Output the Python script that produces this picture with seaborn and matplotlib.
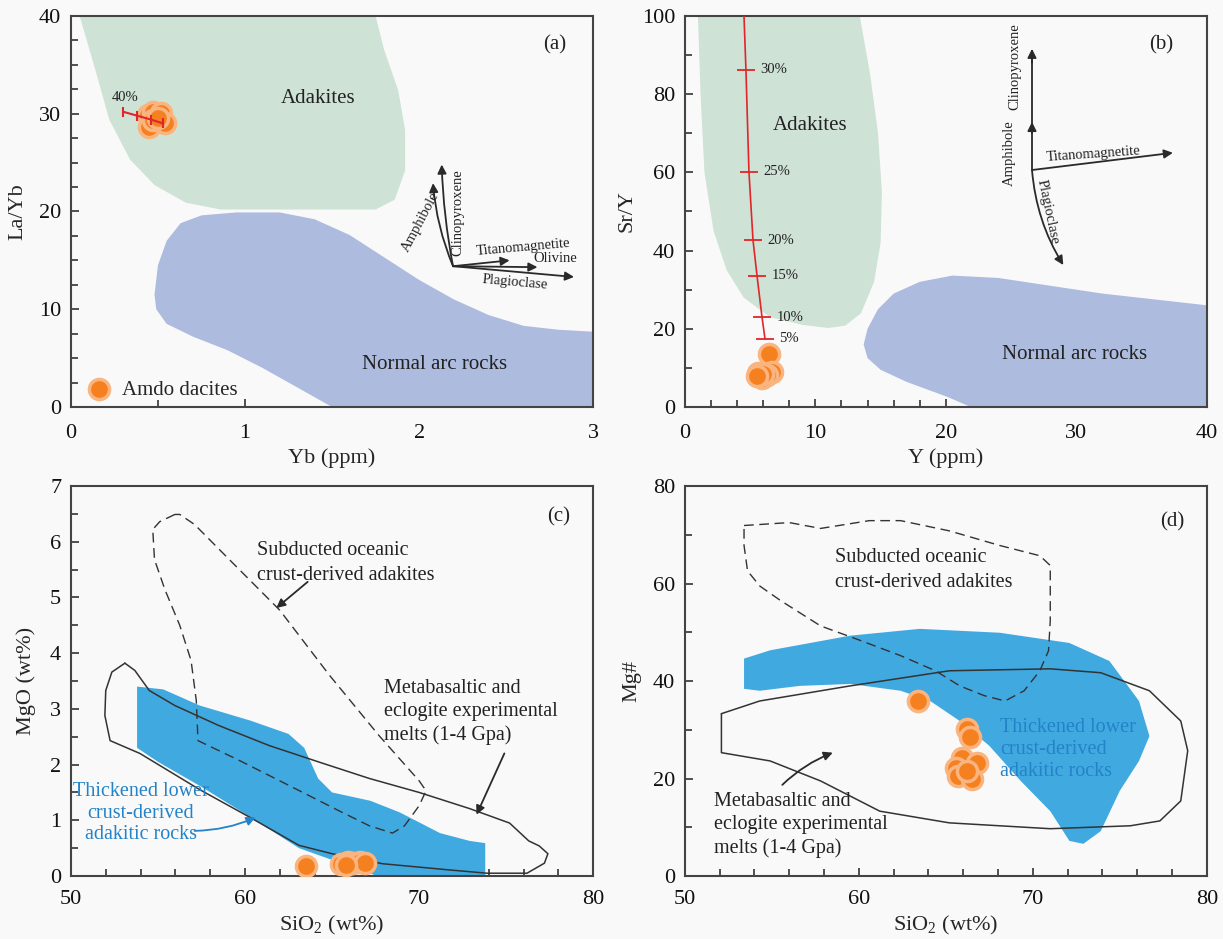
import numpy as np
import pandas as pd
import seaborn as sns
import matplotlib.pyplot as plt
from matplotlib.ticker import MultipleLocator

# ---------------- data ----------------
# (a) Yb vs La/Yb
a_yb = [0.44, 0.47, 0.52, 0.45, 0.54, 0.47, 0.50]
a_layb = [29.9, 30.2, 30.1, 28.6, 29.0, 29.4, 29.6]
a_melt_yb = [0.30, 0.38, 0.46, 0.53]
a_melt_layb = [30.2, 29.8, 29.4, 29.0]
a_adak_yb = [0.05, 0.14, 0.22, 0.34, 0.48, 0.66, 0.86, 1.75, 1.86, 1.92, 1.92, 1.88, 1.80, 1.75]
a_adak_layb = [40, 34.5, 29.4, 25.3, 22.7, 20.9, 20.2, 20.2, 21.2, 24.2, 28.3, 32.4, 36.5, 40]
a_arc_yb = [0.48, 0.50, 0.55, 0.63, 0.75, 0.95, 1.20, 1.40, 1.60, 1.80, 2.00, 2.20, 2.40, 2.60, 2.80, 3.0,
            3.0, 1.50, 1.30, 1.10, 0.90, 0.70, 0.55, 0.49]
a_arc_layb = [11.5, 14.5, 17.0, 18.8, 19.6, 19.9, 19.9, 19.2, 17.6, 15.3, 13.0, 11.0, 9.4, 8.3, 7.9, 7.7,
              0, 0, 2.0, 4.0, 5.8, 7.2, 8.5, 10.0]

# (b) Y vs Sr/Y
b_y = [6.45, 6.7, 5.6, 6.3, 5.9, 6.0, 5.5]
b_sry = [13.6, 9.0, 8.7, 8.2, 7.4, 8.5, 8.0]
b_melt_y = [4.53, 4.68, 4.91, 5.22, 5.53, 5.91, 6.14]
b_melt_sry = [100, 86.2, 60.1, 42.7, 33.5, 23.0, 17.4]
b_melt_lab = ["", "30%", "25%", "20%", "15%", "10%", "5%"]
b_adak_y = [1.0, 1.2, 1.5, 2.2, 3.2, 4.5, 6.5, 9.0, 11.0, 12.3, 13.5, 14.5, 15.0, 15.1, 14.8, 14.2, 13.4]
b_adak_sry = [100, 80, 60, 45, 35, 28, 23, 21, 20.2, 20.8, 24, 32, 42, 55, 70, 85, 100]
b_arc_y = [13.7, 14.0, 14.8, 16.0, 18.0, 20.5, 24.0, 28.0, 32.0, 36.0, 40.0, 40.0, 21.9, 20.1, 17.0, 15.0, 14.0]
b_arc_sry = [16, 20, 25, 29, 32, 33.6, 33, 31, 29, 27.5, 26, 0, 0, 2.6, 6.4, 9.5, 12.5]

# (c) SiO2 vs MgO
c_si = [63.5, 65.5, 65.9, 66.2, 66.6, 66.9, 65.8]
c_mg = [0.18, 0.22, 0.25, 0.23, 0.26, 0.24, 0.20]
c_thick_si = [53.8, 55.3, 57.4, 60.3, 62.5, 63.4, 64.2, 65.0, 67.2, 68.9, 71.2, 72.9, 73.8,
              73.8, 67.6, 63.1, 60.6, 57.5, 55.0, 53.8]
c_thick_mg = [3.40, 3.35, 3.06, 2.79, 2.55, 2.30, 1.75, 1.50, 1.35, 1.14, 0.77, 0.63, 0.59,
              0, 0, 0.5, 1.0, 1.6, 2.05, 2.3]
c_meta_si = [53.1, 52.35, 52.0, 51.95, 52.25, 53.96, 57.4, 60.3, 63.1, 65.0, 67.9, 71.7, 73.9, 76.2,
             77.2, 77.4, 76.9, 76.3, 75.2, 72.9, 70.0, 67.15, 64.3, 61.4, 58.5, 55.97, 54.5, 53.67, 53.1]
c_meta_mg = [3.82, 3.66, 3.33, 2.88, 2.43, 2.20, 1.55, 1.05, 0.55, 0.40, 0.22, 0.11, 0.05, 0.05,
             0.23, 0.40, 0.54, 0.63, 0.95, 1.21, 1.50, 1.75, 2.04, 2.34, 2.70, 3.06, 3.33, 3.69, 3.82]
c_sub_si = [55.97, 55.1, 54.7, 54.8, 55.4, 56.25, 56.9, 57.2, 57.3, 59.7, 62.56, 65.4, 67.15, 68.47,
            69.16, 70.0, 70.4, 70.0, 67.7, 64.86, 62.0, 59.1, 57.1, 56.25, 55.97]
c_sub_mg = [6.49, 6.36, 6.22, 5.68, 5.14, 4.50, 3.87, 3.15, 2.43, 2.07, 1.62, 1.17, 0.90, 0.77,
            0.90, 1.26, 1.53, 1.71, 2.52, 3.60, 4.77, 5.68, 6.31, 6.49, 6.49]

# (d) SiO2 vs Mg#
d_si = [63.4, 66.2, 66.4, 65.9, 65.6, 66.8, 65.7, 66.5, 66.2]
d_mgno = [36.0, 30.2, 28.5, 24.2, 22.2, 23.2, 20.5, 19.9, 21.6]
d_thick_si = [53.4, 54.9, 59.5, 63.5, 68.1, 72.1, 74.4, 76.1, 76.7, 76.1, 75.0, 73.9, 72.9, 72.1,
              71.0, 69.3, 67.5, 65.8, 64.1, 62.4, 59.5, 56.6, 54.3, 53.4]
d_thick_mgno = [44.6, 46.3, 49.3, 50.7, 49.9, 47.8, 44.1, 35.9, 28.7, 23.6, 17.5, 9.2, 6.6, 7.2,
                13.3, 19.5, 26.7, 31.8, 35.9, 38.0, 39.4, 39.0, 38.0, 38.4]
d_meta_si = [52.1, 54.3, 59.5, 65.2, 71.0, 73.9, 76.7, 78.5, 78.9, 78.5, 77.3, 75.6, 71.0, 65.2,
             61.2, 57.8, 54.9, 52.1, 52.1]
d_meta_mgno = [33.3, 35.9, 39.0, 42.1, 42.5, 41.7, 38.0, 31.8, 25.7, 15.4, 11.3, 10.3, 9.7, 10.9,
               13.3, 19.5, 23.6, 25.3, 33.3]
d_sub_si = [53.4, 56.0, 57.8, 60.6, 62.4, 65.2, 68.1, 70.4, 71.0, 71.0, 70.9, 70.4, 69.5, 68.4,
            67.2, 65.8, 64.4, 62.4, 60.1, 57.8, 55.5, 54.3, 53.6, 53.4, 53.4]
d_sub_mgno = [71.9, 72.5, 71.3, 72.9, 72.9, 70.8, 67.8, 65.7, 63.7, 52.4, 46.2, 42.1, 38.0, 35.9,
              37.0, 39.0, 42.1, 45.2, 48.3, 51.3, 56.5, 59.5, 62.6, 67.8, 71.9]

# ---------------- style ----------------
sns.set_theme(style="ticks")
plt.rcParams['font.family'] = ['Liberation Serif', 'DejaVu Serif']
plt.rcParams['mathtext.fontset'] = 'custom'
plt.rcParams['mathtext.rm'] = 'Liberation Serif'
plt.rcParams['mathtext.default'] = 'regular'

bg = '#f9f9f9'
green = '#cfe2d6'
paleblue = '#adbbdf'
brightblue = '#40a9e0'
bluetext = '#2483c8'
orange = '#f4801f'
halo = '#f9b47f'
dark = '#2a2a2a'

fig = plt.figure(figsize=(12.23, 9.39), dpi=100, facecolor=bg)
ax_a = fig.add_axes([0.058, 0.5666, 0.427, 0.4164])
ax_b = fig.add_axes([0.560, 0.5666, 0.4268, 0.4164])
ax_c = fig.add_axes([0.058, 0.0671, 0.427, 0.4153])
ax_d = fig.add_axes([0.560, 0.0671, 0.4268, 0.4153])


def style_axis(ax, xlim, ylim, xmaj, xmin, ymaj, ymin, xlabel, ylabel, ylabpad=6, xpad=10):
    ax.set_facecolor(bg)
    ax.set_xlim(*xlim)
    ax.set_ylim(*ylim)
    ax.xaxis.set_major_locator(MultipleLocator(xmaj))
    ax.xaxis.set_minor_locator(MultipleLocator(xmin))
    ax.yaxis.set_major_locator(MultipleLocator(ymaj))
    ax.yaxis.set_minor_locator(MultipleLocator(ymin))
    ax.tick_params(which='both', direction='in', colors='#333333', labelcolor='#111111',
                   labelsize=16, width=1.2)
    ax.tick_params(which='major', length=6)
    ax.tick_params(which='minor', length=5)
    ax.tick_params(axis='x', which='major', pad=xpad)
    ax.tick_params(axis='y', which='major', pad=7)
    for s in ax.spines.values():
        s.set_color('#444444')
        s.set_linewidth(1.5)
    ax.set_xlabel(xlabel, fontsize=16, labelpad=4)
    ax.set_ylabel(ylabel, fontsize=16, labelpad=ylabpad)


def dots(ax, x, y, label=None):
    df = pd.DataFrame({'x': x, 'y': y})
    sns.scatterplot(data=df, x='x', y='y', ax=ax, s=210, color=orange, edgecolor=halo,
                    linewidth=2.5, label=label, zorder=6, legend=bool(label))


def arrow(ax, start, end, rad=0.0, color=dark, lw=1.3):
    ax.annotate("", xy=end, xytext=start,
                arrowprops=dict(arrowstyle='-|>', color=color, lw=lw, mutation_scale=13,
                                shrinkA=0, shrinkB=0, connectionstyle=f'arc3,rad={rad}'))


# ---------------- (a) ----------------
ax = ax_a
ax.fill(a_adak_yb, a_adak_layb, color=green, lw=0, zorder=1)
ax.fill(a_arc_yb, a_arc_layb, color=paleblue, lw=0, zorder=1)
dots(ax, a_yb, a_layb, label='Amdo dacites')
ax.plot(a_melt_yb, a_melt_layb, color='#e0262b', lw=1.5, marker='|', ms=7, mew=1.5, zorder=7)
ax.text(0.31, 31.0, '40%', fontsize=10.5, ha='center', va='bottom', color='#222')
ax.text(1.42, 31.6, 'Adakites', fontsize=15, ha='center', va='center', color='#222')
ax.text(2.09, 4.3, 'Normal arc rocks', fontsize=15, ha='center', va='center', color='#222')
ax.text(2.78, 37.0, '(a)', fontsize=15, ha='center', va='center', color='#222')
org = (2.195, 14.4)
arrow(ax, org, (2.08, 22.9), rad=-0.08)
arrow(ax, org, (2.13, 24.8), rad=-0.04)
arrow(ax, org, (2.52, 15.0))
arrow(ax, org, (2.68, 14.3))
arrow(ax, org, (2.89, 13.3))
ax.text(2.01, 18.9, 'Amphibole', fontsize=10.5, rotation=62, ha='center', va='center', color='#222')
ax.text(2.225, 19.9, 'Clinopyroxene', fontsize=10.5, rotation=90, ha='center', va='center', color='#222')
ax.text(2.60, 16.3, 'Titanomagnetite', fontsize=10.5, rotation=5, ha='center', va='center', color='#222')
ax.text(2.78, 15.2, 'Olivine', fontsize=10.5, ha='center', va='center', color='#222')
ax.text(2.55, 12.7, 'Plagioclase', fontsize=10.5, rotation=-5, ha='center', va='center', color='#222')
style_axis(ax, (0, 3), (0, 40), 1, 0.5, 10, 2.5, 'Yb (ppm)', 'La/Yb', ylabpad=8, xpad=12)
ax.legend(loc='lower left', frameon=False, fontsize=15, handletextpad=0.1,
          borderaxespad=0.1, borderpad=0.25)

# ---------------- (b) ----------------
ax = ax_b
ax.fill(b_adak_y, b_adak_sry, color=green, lw=0, zorder=1)
ax.fill(b_arc_y, b_arc_sry, color=paleblue, lw=0, zorder=1)
ax.plot(b_melt_y, b_melt_sry, color='#e0262b', lw=1.2, zorder=4)
ax.plot(b_melt_y[1:], b_melt_sry[1:], ls='none', marker='_', ms=13, mew=1.3, color='#e0262b', zorder=4)
for xv, yv, lab in zip(b_melt_y, b_melt_sry, b_melt_lab):
    if lab:
        ax.text(xv + 1.1, yv, lab, fontsize=10.5, ha='left', va='center', color='#222')
dots(ax, b_y, b_sry)
ax.text(9.6, 72.1, 'Adakites', fontsize=15, ha='center', va='center', color='#222')
ax.text(29.9, 13.3, 'Normal arc rocks', fontsize=15, ha='center', va='center', color='#222')
ax.text(36.5, 92.6, '(b)', fontsize=15, ha='center', va='center', color='#222')
orgb = (26.6, 60.6)
ax.plot([26.6, 26.6], [60.6, 91.0], color=dark, lw=1.3)
arrow(ax, (26.6, 70.0), (26.6, 72.9))
arrow(ax, (26.6, 88.0), (26.6, 91.6))
arrow(ax, orgb, (37.4, 65.0))
arrow(ax, orgb, (29.0, 36.3), rad=0.12)
ax.text(24.9, 65.0, 'Amphibole', fontsize=10.5, rotation=90, ha='center', va='center', color='#222')
ax.text(25.3, 87.0, 'Clinopyroxene', fontsize=10.5, rotation=90, ha='center', va='center', color='#222')
ax.text(31.3, 64.7, 'Titanomagnetite', fontsize=10.5, rotation=4, ha='center', va='center', color='#222')
ax.text(27.8, 49.9, 'Plagioclase', fontsize=10.5, rotation=-78, ha='center', va='center', color='#222')
style_axis(ax, (0, 40), (0, 100), 10, 2, 20, 10, 'Y (ppm)', 'Sr/Y', ylabpad=4, xpad=12)

# ---------------- (c) ----------------
ax = ax_c
ax.fill(c_thick_si, c_thick_mg, color=brightblue, lw=0, zorder=1)
ax.plot(c_meta_si, c_meta_mg, color='#333333', lw=1.1, zorder=3)
ax.plot(c_sub_si, c_sub_mg, color='#333333', lw=1.0, ls=(0, (7, 4)), zorder=3)
dots(ax, c_si, c_mg)
ax.text(60.7, 5.62, 'Subducted oceanic\ncrust-derived adakites', fontsize=14.5, ha='left',
        va='center', color='#222', linespacing=1.45)
arrow(ax, (63.6, 5.28), (61.8, 4.81))
ax.text(68.0, 2.94, 'Metabasaltic and\neclogite experimental\nmelts (1-4 Gpa)', fontsize=14.5,
        ha='left', va='center', color='#222', linespacing=1.3)
arrow(ax, (74.9, 2.2), (73.3, 1.1))
ax.text(54.0, 1.13, 'Thickened lower\ncrust-derived\nadakitic rocks', fontsize=14.5, ha='center',
        va='center', color=bluetext, linespacing=1.2)
arrow(ax, (57.1, 0.81), (60.6, 1.05), color=bluetext, rad=0.1)
ax.text(78.0, 6.45, '(c)', fontsize=15, ha='center', va='center', color='#222')
style_axis(ax, (50, 80), (0, 7), 10, 2, 1, 0.5, 'SiO$_2$ (wt%)', 'MgO (wt%)', ylabpad=10)

# ---------------- (d) ----------------
ax = ax_d
ax.fill(d_thick_si, d_thick_mgno, color=brightblue, lw=0, zorder=1)
ax.plot(d_meta_si, d_meta_mgno, color='#333333', lw=1.1, zorder=3)
ax.plot(d_sub_si, d_sub_mgno, color='#333333', lw=1.0, ls=(0, (7, 4)), zorder=3)
dots(ax, d_si, d_mgno)
ax.text(58.6, 62.8, 'Subducted oceanic\ncrust-derived adakites', fontsize=14.5, ha='left',
        va='center', color='#222', linespacing=1.45)
ax.text(68.1, 25.9, 'Thickened lower\ncrust-derived\nadakitic rocks', fontsize=14.5, ha='left',
        va='center', color=bluetext, linespacing=1.2)
ax.text(51.7, 10.5, 'Metabasaltic and\neclogite experimental\nmelts (1-4 Gpa)', fontsize=14.5,
        ha='left', va='center', color='#222', linespacing=1.3)
arrow(ax, (55.6, 18.7), (58.5, 25.3), rad=-0.1)
ax.text(78.0, 72.7, '(d)', fontsize=15, ha='center', va='center', color='#222')
style_axis(ax, (50, 80), (0, 80), 10, 2, 20, 10, 'SiO$_2$ (wt%)', 'Mg#', ylabpad=8)

fig.savefig('out.png', dpi=100, facecolor=bg)
